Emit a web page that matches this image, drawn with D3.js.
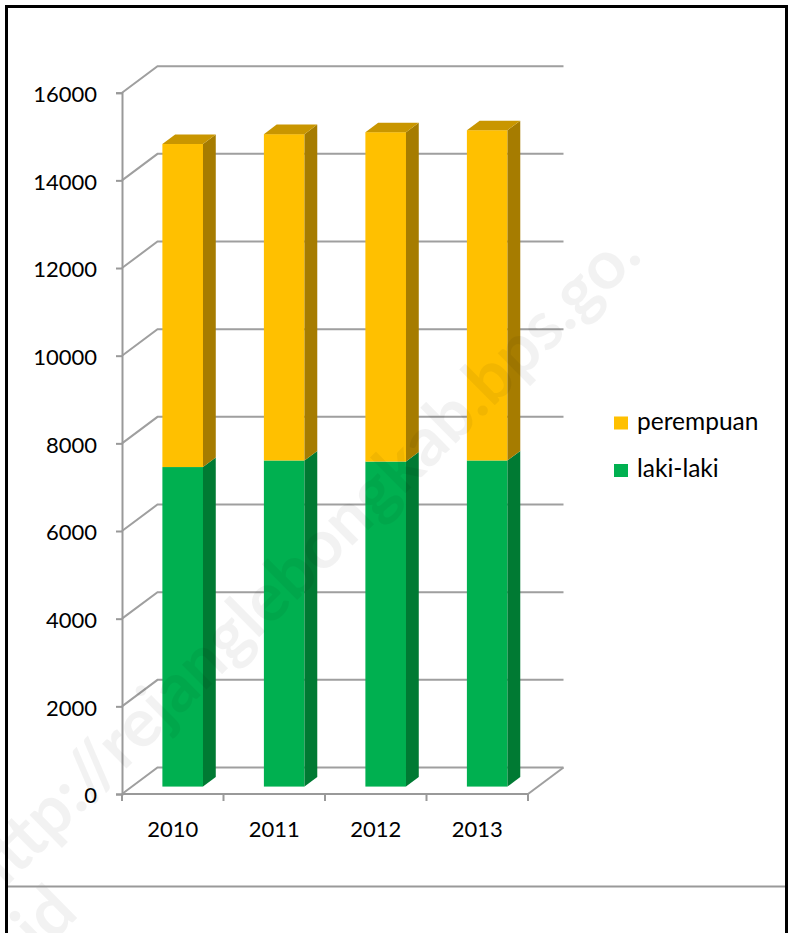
<!DOCTYPE html>
<html>
<head>
<meta charset="utf-8">
<script src="https://cdn.jsdelivr.net/npm/d3@7"></script>
<style>
  body { margin: 0; background: #fff; }
  text { font-family: Lato, "Open Sans", sans-serif; }
</style>
</head>
<body>
<div id="chart"></div>
<script>
// data
const years = ["2010", "2011", "2012", "2013"];
const lakiLaki = [7290, 7440, 7415, 7440];
const perempuan = [7370, 7445, 7515, 7535];
const yTicks = [0, 2000, 4000, 6000, 8000, 10000, 12000, 14000, 16000];
const seriesNames = ["perempuan", "laki-laki"];

const width = 788, height = 933;

// 3d look: how far the back wall sits from the front plane
const DX = 35.5, DY = -26.5;
const f0 = 0.28, f1 = 0.64;   // bar front / back depth

const green = { front: "#00B050", side: "#007A33", top: "#009A46" };
const gold = { front: "#FFC000", side: "#A67C00", top: "#C99600" };

const svg = d3.select("#chart")
  .append("svg")
  .attr("width", width)
  .attr("height", height);

svg.append("rect").attr("width", width).attr("height", height).attr("fill", "#fff");

const x = d3.scaleBand().domain(years).range([122, 528]);
const y = d3.scaleLinear().domain([0, 16000]).range([794, 92.7]);
const step = x.step();
const bw = step * 0.4;

// back wall gridlines + left wall diagonals
const grid = svg.append("g").attr("stroke", "#9f9f9f").attr("stroke-width", 2).attr("fill", "none");
grid.selectAll(".gl")
  .data(yTicks)
  .enter()
  .append("path")
  .attr("d", d => `M${x.range()[0]},${y(d)} L${x.range()[0] + DX},${y(d) + DY} L${x.range()[1] + DX},${y(d) + DY}`);

// floor right edge
grid.append("path")
  .attr("d", `M${x.range()[1]},${y(0)} L${x.range()[1] + DX},${y(0) + DY}`);

// y axis on the front plane
svg.append("g")
  .attr("transform", `translate(${x.range()[0]},0)`)
  .call(d3.axisLeft(y).tickValues(yTicks).tickSize(6).tickPadding(19).tickFormat(d3.format("d")))
  .call(g => g.select(".domain").attr("stroke", "#999").attr("stroke-width", 2))
  .call(g => g.selectAll(".tick line").attr("stroke", "#999").attr("stroke-width", 2))
  .call(g => g.selectAll(".tick text").attr("font-size", "22px").attr("fill", "#000").attr("dy", "0.4em")
    .style("font-family", "Lato"));

// x axis: line, boundary ticks, labels in the middle
const xAxis = svg.append("g").attr("transform", `translate(0,${y(0)})`);
xAxis.append("line")
  .attr("x1", x.range()[0]).attr("x2", x.range()[1])
  .attr("stroke", "#999").attr("stroke-width", 2);
xAxis.selectAll(".bt")
  .data(years.concat(["end"]))
  .enter()
  .append("line")
  .attr("x1", (d, i) => i < years.length ? x(d) : x.range()[1])
  .attr("x2", (d, i) => i < years.length ? x(d) : x.range()[1])
  .attr("y1", 0).attr("y2", 7)
  .attr("stroke", "#999").attr("stroke-width", 2);
xAxis.selectAll(".lab")
  .data(years)
  .enter()
  .append("text")
  .attr("x", d => x(d) + step / 2)
  .attr("y", 43)
  .attr("text-anchor", "middle")
  .attr("font-size", "22px")
  .text(d => d);

// stacked 3d bars
const stacks = years.map((yr, i) => [
  { yr: yr, lo: 0, hi: lakiLaki[i], c: green, top: false },
  { yr: yr, lo: lakiLaki[i], hi: lakiLaki[i] + perempuan[i], c: gold, top: true }
]).flat();

const px = d => x(d.yr) + (step - bw) / 2 + f0 * DX;
const py = (v, f) => y(v) + f * DY;

const bars = svg.append("g");
bars.selectAll(".front")
  .data(stacks)
  .enter()
  .append("rect")
  .attr("x", d => px(d))
  .attr("y", d => py(d.hi, f0))
  .attr("width", bw)
  .attr("height", d => py(d.lo, f0) - py(d.hi, f0))
  .attr("fill", d => d.c.front);

bars.selectAll(".side")
  .data(stacks)
  .enter()
  .append("path")
  .attr("d", d => {
    const xa = px(d) + bw, xb = xa + (f1 - f0) * DX;
    return `M${xa},${py(d.hi, f0)} L${xb},${py(d.hi, f1)} L${xb},${py(d.lo, f1)} L${xa},${py(d.lo, f0)}Z`;
  })
  .attr("fill", d => d.c.side);

bars.selectAll(".top")
  .data(stacks.filter(d => d.top))
  .enter()
  .append("path")
  .attr("d", d => {
    const xa = px(d), sh = (f1 - f0) * DX;
    const ya = py(d.hi, f0), yb = py(d.hi, f1);
    return `M${xa},${ya} L${xa + sh},${yb} L${xa + bw + sh},${yb} L${xa + bw},${ya}Z`;
  })
  .attr("fill", d => d.c.top);

// legend
const legend = svg.append("g").selectAll("g")
  .data(seriesNames)
  .enter()
  .append("g")
  .attr("transform", (d, i) => `translate(614,${416.5 + i * 47.5})`);
legend.append("rect")
  .attr("width", 14).attr("height", 13)
  .attr("fill", (d, i) => i === 0 ? gold.front : green.front);
legend.append("text")
  .attr("x", 23).attr("y", 13)
  .attr("font-size", "24.5px")
  .text(d => d);

// watermark
const wm = svg.append("g")
  .attr("transform", "translate(-10,903) rotate(-44.6)")
  .attr("fill", "#000").attr("fill-opacity", 0.05)
  .attr("font-weight", "bold").attr("font-size", "68px");
wm.append("text").attr("x", 0).attr("y", 0).text("http://rejanglebongkab.bps.go.");
wm.append("text").attr("x", 0).attr("y", 72).text("id");

// divider and frame
svg.append("line")
  .attr("x1", 8).attr("x2", 786).attr("y1", 886.5).attr("y2", 886.5)
  .attr("stroke", "#999").attr("stroke-width", 2);
svg.append("rect")
  .attr("x", 6.5).attr("y", 6.5).attr("width", 780).attr("height", 940)
  .attr("fill", "none").attr("stroke", "#000").attr("stroke-width", 3);
</script>
</body>
</html>
